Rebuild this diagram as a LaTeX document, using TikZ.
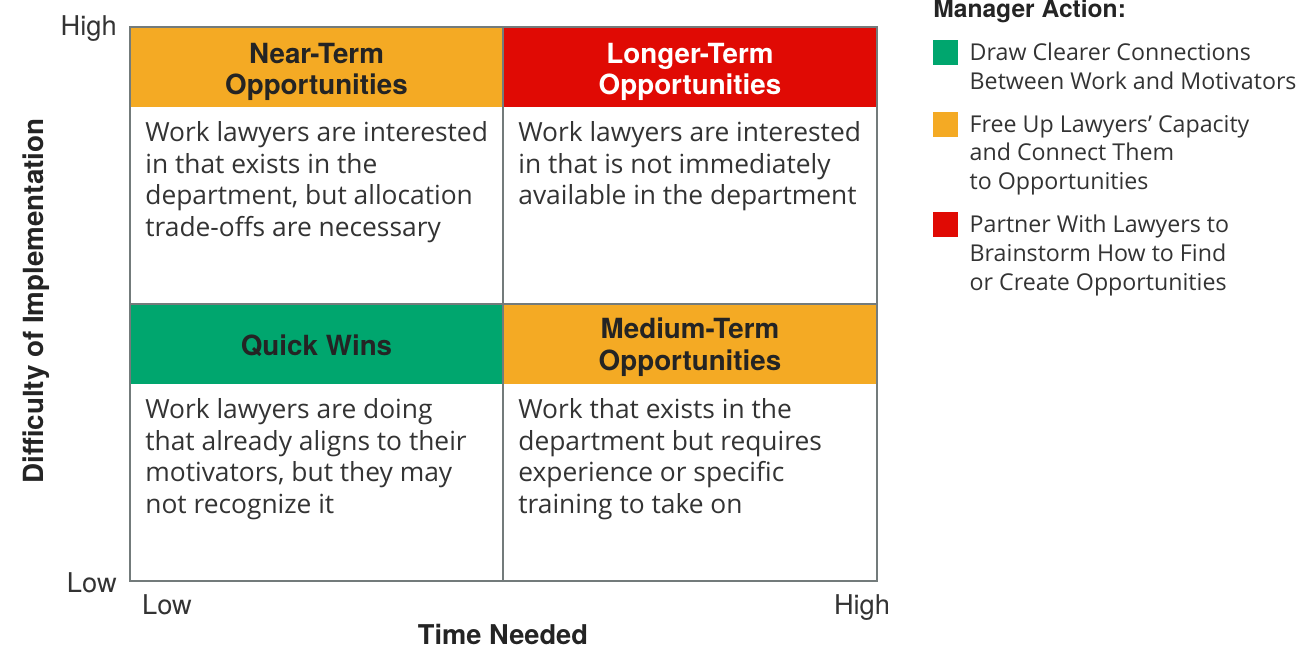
\documentclass[tikz,border=0pt]{standalone}
\usepackage{fontspec}
\usepackage{xcolor}
\setmainfont{Open Sans}
\newfontfamily\headfont{TeX Gyre Heros}
\usetikzlibrary{positioning}

\definecolor{qgreen}{HTML}{00A66E}
\definecolor{qorange}{HTML}{F4AA24}
\definecolor{qred}{HTML}{E00A04}
\definecolor{framegray}{HTML}{737B7B}
\definecolor{inktext}{HTML}{242424}
\definecolor{bodytext}{HTML}{333333}

\begin{document}
\begin{tikzpicture}[
    x=0.02cm, y=-0.02cm,
    head/.style={inner sep=0pt, align=center, text=inktext,
        font=\headfont\bfseries\fontsize{15.8}{18}\selectfont},
    body/.style={anchor=north west, inner sep=0pt, align=left, text=bodytext,
        font=\fontsize{15}{18.1}\selectfont},
    axislbl/.style={text=bodytext, inner sep=0pt, anchor=base, font=\headfont\fontsize{15.5}{16}\selectfont},
    axistitle/.style={text=inktext, inner sep=0pt, font=\headfont\bfseries\fontsize{15.5}{16}\selectfont},
    swatch/.style={minimum size=0.5cm, inner sep=0pt},
    legend/.style={anchor=north west, inner sep=0pt, align=left, text=bodytext,
        font=\fontsize{13.2}{16.4}\selectfont}
]
\useasboundingbox (0,0) rectangle (1314,648);

% Quadrant header bands
\fill[qorange] (130,27) rectangle (503,107);
\fill[qred] (503,27) rectangle (877,107);
\fill[qgreen] (130,304) rectangle (503,384);
\fill[qorange] (503,304) rectangle (877,384);

% Quadrant headers
\node[head] (nearhead) at (316.5,72) {Near-Term\\Opportunities};
\node[head, text=white] (longhead) at (690,72) {Longer-Term\\Opportunities};
\node[head] (quickhead) at (316.5,346) {Quick Wins};
\node[head] (mediumhead) at (690,347) {Medium-Term\\Opportunities};

% Quadrant texts
\node[body] (neartext) at (145,121) {Work lawyers are interested\\in that exists in the\\department, but allocation\\trade-offs are necessary};
\node[body] (longtext) at (518,121) {Work lawyers are interested\\in that is not immediately\\available in the department};
\node[body] (quicktext) at (145,398) {Work lawyers are doing\\that already aligns to their\\motivators, but they may\\not recognize it};
\node[body] (mediumtext) at (518,398) {Work that exists in the\\department but requires\\experience or specific\\training to take on};

% Grid
\draw[framegray, line width=0.6pt] (503,27) -- (503,581);
\draw[framegray, line width=0.6pt] (130,304) -- (877,304);
\draw[framegray, line width=1.6pt] (130,27) rectangle (877,581);

% Axes
\node[axislbl, anchor=base east] (yhigh) at (117,36) {High};
\node[axislbl, anchor=base east] (ylow) at (117,592) {Low};
\node[axislbl] (xlow) at (167,614) {Low};
\node[axislbl] (xhigh) at (862,614) {High};
\node[axistitle] (xtitle) at (503,634) {Time Needed};
\node[axistitle, rotate=90, font=\headfont\bfseries\fontsize{15.8}{16}\selectfont] (ytitle) at (36,301) {Difficulty of Implementation};

% Legend
\node[axistitle, anchor=west, font=\headfont\bfseries\fontsize{14}{16}\selectfont] (legtitle) at (933,11) {Manager Action:};
\node[swatch, fill=qgreen] (greenkey) at (945.5,52.5) {};
\node[swatch, fill=qorange] (orangekey) at (945.5,124.5) {};
\node[swatch, fill=qred] (redkey) at (945.5,224.5) {};
\node[legend] (greentext) at ([xshift=0.22cm,yshift=-0.06cm]greenkey.north east) {Draw Clearer Connections\\Between Work and Motivators};
\node[legend] (orangetext) at ([xshift=0.22cm,yshift=-0.06cm]orangekey.north east) {Free Up Lawyers’ Capacity\\and Connect Them\\to Opportunities};
\node[legend] (redtext) at ([xshift=0.22cm,yshift=-0.06cm]redkey.north east) {Partner With Lawyers to\\Brainstorm How to Find\\or Create Opportunities};

\end{tikzpicture}
\end{document}
